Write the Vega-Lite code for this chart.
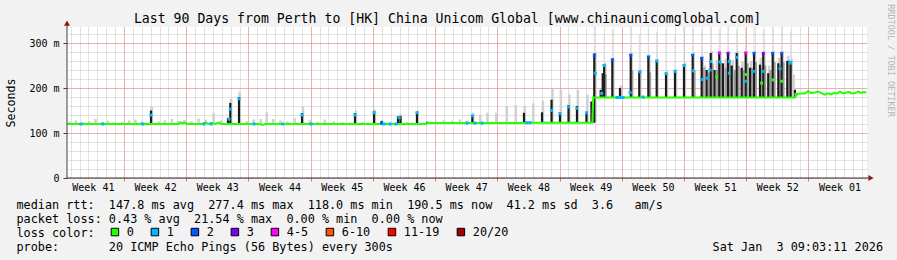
{
  "$schema": "https://vega.github.io/schema/vega-lite/v6.json",
  "width": 800,
  "height": 151,
  "autosize": {"type": "none"},
  "padding": {"left": 67, "top": 27, "right": 30, "bottom": 82},
  "background": "#f2f2f2",
  "title": {
    "text": "Last 90 Days from Perth to [HK] China Unicom Global [www.chinaunicomglobal.com]",
    "font": "DejaVu Sans Mono", "fontSize": 13.2, "fontWeight": "normal", "color": "black",
    "anchor": "middle", "frame": "group", "dx": -19.5, "dy": 37, "offset": 5, "baseline": "alphabetic"
  },
  "config": {
    "view": {"fill": "white", "stroke": null},
    "font": "DejaVu Sans Mono",
    "axis": {"labelFlush": false, "labelOverlap": false}
  },
  "datasets": {
    "tail": [
      {"t": 9.45, "lo": 120, "hi": 162}, {"t": 19.35, "lo": 120, "hi": 195},
      {"t": 59.32, "lo": 179, "hi": 337}, {"t": 60.43, "lo": 179, "hi": 320}, {"t": 61.35, "lo": 179, "hi": 330},
      {"t": 63.42, "lo": 179, "hi": 338}, {"t": 64.38, "lo": 179, "hi": 320}, {"t": 65.40, "lo": 179, "hi": 330},
      {"t": 66.34, "lo": 179, "hi": 325}, {"t": 67.39, "lo": 179, "hi": 330}, {"t": 68.40, "lo": 179, "hi": 318},
      {"t": 69.41, "lo": 179, "hi": 336}, {"t": 70.39, "lo": 179, "hi": 334}, {"t": 71.40, "lo": 179, "hi": 330},
      {"t": 72.42, "lo": 179, "hi": 336}, {"t": 73.38, "lo": 179, "hi": 333}, {"t": 74.36, "lo": 179, "hi": 336},
      {"t": 75.34, "lo": 179, "hi": 330}, {"t": 76.35, "lo": 179, "hi": 334}, {"t": 77.29, "lo": 179, "hi": 336},
      {"t": 78.33, "lo": 179, "hi": 330}, {"t": 79.39, "lo": 179, "hi": 335}, {"t": 80.40, "lo": 179, "hi": 336},
      {"t": 81.41, "lo": 179, "hi": 325}
    ],
    "smoke": [
      {"t": 0.3, "lo": 120, "hi": 126}, {"t": 1.0, "lo": 120, "hi": 128}, {"t": 1.8, "lo": 120, "hi": 124},
      {"t": 2.5, "lo": 120, "hi": 126}, {"t": 3.2, "lo": 120, "hi": 131}, {"t": 4.0, "lo": 120, "hi": 125},
      {"t": 4.6, "lo": 120, "hi": 127}, {"t": 5.3, "lo": 120, "hi": 124}, {"t": 6.2, "lo": 120, "hi": 125},
      {"t": 7.0, "lo": 120, "hi": 128}, {"t": 7.7, "lo": 120, "hi": 130}, {"t": 8.4, "lo": 120, "hi": 126},
      {"t": 9.55, "lo": 120, "hi": 158}, {"t": 10.3, "lo": 120, "hi": 126}, {"t": 11.0, "lo": 120, "hi": 128},
      {"t": 11.8, "lo": 120, "hi": 131}, {"t": 12.5, "lo": 120, "hi": 127}, {"t": 13.2, "lo": 120, "hi": 129},
      {"t": 14.0, "lo": 120, "hi": 126}, {"t": 14.8, "lo": 120, "hi": 132}, {"t": 15.6, "lo": 120, "hi": 130},
      {"t": 16.5, "lo": 120, "hi": 145}, {"t": 17.3, "lo": 120, "hi": 128}, {"t": 18.47, "lo": 120, "hi": 176},
      {"t": 19.45, "lo": 120, "hi": 190}, {"t": 20.2, "lo": 120, "hi": 126}, {"t": 21.0, "lo": 120, "hi": 130},
      {"t": 21.8, "lo": 120, "hi": 131}, {"t": 22.47, "lo": 120, "hi": 146}, {"t": 23.2, "lo": 120, "hi": 131},
      {"t": 24.0, "lo": 120, "hi": 128}, {"t": 24.8, "lo": 120, "hi": 126}, {"t": 25.6, "lo": 120, "hi": 133},
      {"t": 26.54, "lo": 120, "hi": 160}, {"t": 27.3, "lo": 120, "hi": 128}, {"t": 28.2, "lo": 120, "hi": 125},
      {"t": 29.0, "lo": 120, "hi": 130}, {"t": 30.0, "lo": 120, "hi": 126}, {"t": 31.0, "lo": 120, "hi": 124},
      {"t": 32.5, "lo": 120, "hi": 150}, {"t": 33.3, "lo": 120, "hi": 124}, {"t": 34.64, "lo": 120, "hi": 152},
      {"t": 36.3, "lo": 120, "hi": 123}, {"t": 37.5, "lo": 120, "hi": 142}, {"t": 38.3, "lo": 120, "hi": 124},
      {"t": 39.47, "lo": 120, "hi": 150}, {"t": 41.5, "lo": 122, "hi": 126}, {"t": 42.4, "lo": 122, "hi": 128},
      {"t": 43.3, "lo": 122, "hi": 127}, {"t": 44.2, "lo": 122, "hi": 130}, {"t": 45.0, "lo": 122, "hi": 128},
      {"t": 45.7, "lo": 122, "hi": 145}, {"t": 46.5, "lo": 122, "hi": 140}, {"t": 47.3, "lo": 122, "hi": 145},
      {"t": 48.3, "lo": 122, "hi": 145}, {"t": 49.47, "lo": 122, "hi": 160}, {"t": 50.48, "lo": 122, "hi": 162},
      {"t": 51.5, "lo": 122, "hi": 160}, {"t": 52.46, "lo": 123, "hi": 166}, {"t": 53.54, "lo": 123, "hi": 172},
      {"t": 54.61, "lo": 123, "hi": 198}, {"t": 55.56, "lo": 123, "hi": 196}, {"t": 56.52, "lo": 123, "hi": 186},
      {"t": 57.47, "lo": 123, "hi": 196}, {"t": 58.54, "lo": 123, "hi": 186}, {"t": 59.45, "lo": 123, "hi": 280},
      {"t": 60.55, "lo": 179, "hi": 256}, {"t": 61.47, "lo": 179, "hi": 266}, {"t": 62.3, "lo": 179, "hi": 206},
      {"t": 63.54, "lo": 179, "hi": 278}, {"t": 64.5, "lo": 179, "hi": 242}, {"t": 65.52, "lo": 179, "hi": 274},
      {"t": 66.46, "lo": 179, "hi": 265}, {"t": 67.51, "lo": 179, "hi": 238}, {"t": 68.52, "lo": 179, "hi": 242},
      {"t": 69.53, "lo": 179, "hi": 256}, {"t": 70.51, "lo": 179, "hi": 278}, {"t": 71.52, "lo": 179, "hi": 271},
      {"t": 71.75, "lo": 179, "hi": 250}, {"t": 72.54, "lo": 179, "hi": 282}, {"t": 73.1, "lo": 179, "hi": 262},
      {"t": 73.5, "lo": 179, "hi": 282}, {"t": 74.1, "lo": 179, "hi": 265}, {"t": 74.48, "lo": 179, "hi": 282},
      {"t": 74.9, "lo": 179, "hi": 262}, {"t": 75.46, "lo": 179, "hi": 282}, {"t": 76.0, "lo": 179, "hi": 258},
      {"t": 76.47, "lo": 179, "hi": 282}, {"t": 76.95, "lo": 179, "hi": 260}, {"t": 77.41, "lo": 179, "hi": 282},
      {"t": 78.05, "lo": 179, "hi": 268}, {"t": 78.45, "lo": 179, "hi": 282}, {"t": 79.0, "lo": 179, "hi": 250},
      {"t": 79.51, "lo": 179, "hi": 282}, {"t": 80.12, "lo": 179, "hi": 268}, {"t": 80.52, "lo": 179, "hi": 282},
      {"t": 81.13, "lo": 179, "hi": 272}, {"t": 81.53, "lo": 179, "hi": 265}, {"t": 81.75, "lo": 179, "hi": 230}
    ],
    "mid": [
      {"t": 71.62, "lo": 179, "hi": 245}, {"t": 72.2, "lo": 179, "hi": 235}, {"t": 72.64, "lo": 179, "hi": 255},
      {"t": 73.15, "lo": 179, "hi": 240}, {"t": 73.6, "lo": 179, "hi": 255}, {"t": 74.1, "lo": 179, "hi": 245},
      {"t": 74.58, "lo": 179, "hi": 258}, {"t": 75.1, "lo": 179, "hi": 240}, {"t": 75.56, "lo": 179, "hi": 250},
      {"t": 76.1, "lo": 179, "hi": 240}, {"t": 76.57, "lo": 179, "hi": 255}, {"t": 77.05, "lo": 179, "hi": 245},
      {"t": 77.51, "lo": 179, "hi": 258}, {"t": 78.1, "lo": 179, "hi": 245}, {"t": 78.55, "lo": 179, "hi": 250},
      {"t": 79.15, "lo": 179, "hi": 240}, {"t": 79.61, "lo": 179, "hi": 258}, {"t": 80.2, "lo": 179, "hi": 250},
      {"t": 80.62, "lo": 179, "hi": 258}, {"t": 81.2, "lo": 179, "hi": 262}, {"t": 60.6, "lo": 179, "hi": 230},
      {"t": 63.6, "lo": 179, "hi": 240}, {"t": 65.6, "lo": 179, "hi": 235}, {"t": 70.6, "lo": 179, "hi": 240}
    ],
    "spike": [
      {"t": 9.45, "lo": 120, "hi": 150}, {"t": 18.11, "lo": 120, "hi": 133}, {"t": 18.37, "lo": 120, "hi": 167},
      {"t": 19.35, "lo": 120, "hi": 180}, {"t": 26.44, "lo": 120, "hi": 144}, {"t": 32.40, "lo": 120, "hi": 144},
      {"t": 34.54, "lo": 120, "hi": 148}, {"t": 35.40, "lo": 120, "hi": 127}, {"t": 37.24, "lo": 120, "hi": 137},
      {"t": 37.52, "lo": 120, "hi": 138}, {"t": 39.37, "lo": 120, "hi": 147}, {"t": 40.53, "lo": 120, "hi": 125},
      {"t": 45.60, "lo": 122, "hi": 140}, {"t": 51.41, "lo": 123, "hi": 145}, {"t": 53.44, "lo": 123, "hi": 146},
      {"t": 54.51, "lo": 123, "hi": 174}, {"t": 55.46, "lo": 123, "hi": 146}, {"t": 56.42, "lo": 123, "hi": 162},
      {"t": 57.37, "lo": 123, "hi": 160}, {"t": 58.44, "lo": 123, "hi": 146}, {"t": 59.00, "lo": 123, "hi": 170},
      {"t": 59.32, "lo": 123, "hi": 277},
      {"t": 60.04, "lo": 179, "hi": 196}, {"t": 60.27, "lo": 179, "hi": 233}, {"t": 60.43, "lo": 179, "hi": 252},
      {"t": 61.35, "lo": 179, "hi": 263}, {"t": 62.21, "lo": 179, "hi": 200}, {"t": 63.42, "lo": 179, "hi": 274},
      {"t": 64.38, "lo": 179, "hi": 237}, {"t": 65.40, "lo": 179, "hi": 270}, {"t": 66.34, "lo": 179, "hi": 261},
      {"t": 67.39, "lo": 179, "hi": 233}, {"t": 68.40, "lo": 179, "hi": 237}, {"t": 69.41, "lo": 179, "hi": 252},
      {"t": 70.39, "lo": 179, "hi": 274}, {"t": 71.40, "lo": 179, "hi": 267}, {"t": 71.96, "lo": 179, "hi": 240},
      {"t": 72.42, "lo": 179, "hi": 278}, {"t": 72.85, "lo": 179, "hi": 240}, {"t": 73.38, "lo": 179, "hi": 278},
      {"t": 73.80, "lo": 179, "hi": 255}, {"t": 74.36, "lo": 179, "hi": 278}, {"t": 74.78, "lo": 179, "hi": 250},
      {"t": 75.34, "lo": 179, "hi": 278}, {"t": 75.90, "lo": 179, "hi": 245}, {"t": 76.35, "lo": 179, "hi": 278},
      {"t": 76.84, "lo": 179, "hi": 245}, {"t": 77.29, "lo": 179, "hi": 278}, {"t": 77.96, "lo": 179, "hi": 252},
      {"t": 78.33, "lo": 179, "hi": 277}, {"t": 78.89, "lo": 179, "hi": 233}, {"t": 79.39, "lo": 179, "hi": 278},
      {"t": 80.02, "lo": 179, "hi": 255}, {"t": 80.40, "lo": 179, "hi": 278}, {"t": 81.03, "lo": 179, "hi": 260},
      {"t": 81.41, "lo": 179, "hi": 259}, {"t": 81.90, "lo": 179, "hi": 196}
    ],
    "median": [
      {"t": 0, "ms": 120}, {"t": 12.6, "ms": 120}, {"t": 12.8, "ms": 124}, {"t": 13.0, "ms": 121},
      {"t": 13.2, "ms": 123}, {"t": 13.5, "ms": 120}, {"t": 15.3, "ms": 120}, {"t": 15.6, "ms": 123},
      {"t": 15.9, "ms": 120}, {"t": 16.3, "ms": 122}, {"t": 16.7, "ms": 120}, {"t": 17.0, "ms": 123},
      {"t": 17.3, "ms": 120}, {"t": 21.7, "ms": 120}, {"t": 22.0, "ms": 118}, {"t": 22.3, "ms": 120},
      {"t": 40.4, "ms": 120}, {"t": 40.6, "ms": 122}, {"t": 52.0, "ms": 122}, {"t": 52.3, "ms": 123},
      {"t": 59.1, "ms": 123}, {"t": 59.2, "ms": 179}, {"t": 81.9, "ms": 179}, {"t": 82.05, "ms": 184},
      {"t": 82.2, "ms": 187}, {"t": 82.46, "ms": 188}, {"t": 83.02, "ms": 188}, {"t": 83.36, "ms": 193},
      {"t": 83.70, "ms": 189}, {"t": 84.15, "ms": 190}, {"t": 84.49, "ms": 192}, {"t": 84.94, "ms": 188},
      {"t": 85.27, "ms": 185}, {"t": 85.61, "ms": 188}, {"t": 85.95, "ms": 186}, {"t": 86.28, "ms": 189},
      {"t": 86.62, "ms": 188}, {"t": 86.96, "ms": 192}, {"t": 87.30, "ms": 188}, {"t": 87.64, "ms": 190},
      {"t": 87.98, "ms": 191}, {"t": 88.31, "ms": 188}, {"t": 88.65, "ms": 189}, {"t": 88.99, "ms": 192},
      {"t": 89.32, "ms": 189}, {"t": 89.66, "ms": 191}, {"t": 89.94, "ms": 190}
    ],
    "dots": [
      {"t": 1.57, "ms": 120, "loss": "1"}, {"t": 4.02, "ms": 120, "loss": "1"}, {"t": 8.52, "ms": 120, "loss": "1"},
      {"t": 9.45, "ms": 140, "loss": "1"}, {"t": 15.41, "ms": 120, "loss": "1"}, {"t": 16.20, "ms": 120, "loss": "1"},
      {"t": 18.22, "ms": 131, "loss": "1"}, {"t": 18.37, "ms": 153, "loss": "1"}, {"t": 19.35, "ms": 176, "loss": "1"},
      {"t": 21.04, "ms": 120, "loss": "1"}, {"t": 24.27, "ms": 120, "loss": "1"}, {"t": 26.44, "ms": 140, "loss": "1"},
      {"t": 27.45, "ms": 120, "loss": "1"}, {"t": 32.40, "ms": 140, "loss": "1"}, {"t": 34.54, "ms": 145, "loss": "1"},
      {"t": 35.40, "ms": 122, "loss": "2"}, {"t": 35.66, "ms": 120, "loss": "1"}, {"t": 36.34, "ms": 120, "loss": "1"},
      {"t": 37.01, "ms": 120, "loss": "1"}, {"t": 37.37, "ms": 134, "loss": "1"}, {"t": 39.37, "ms": 145, "loss": "1"},
      {"t": 45.00, "ms": 122, "loss": "1"}, {"t": 45.60, "ms": 138, "loss": "1"}, {"t": 45.90, "ms": 122, "loss": "1"},
      {"t": 46.69, "ms": 122, "loss": "1"}, {"t": 51.75, "ms": 123, "loss": "1"}, {"t": 52.09, "ms": 123, "loss": "1"},
      {"t": 54.51, "ms": 150, "loss": "1"}, {"t": 55.46, "ms": 143, "loss": "1"}, {"t": 56.42, "ms": 158, "loss": "1"},
      {"t": 57.37, "ms": 155, "loss": "1"}, {"t": 58.44, "ms": 145, "loss": "1"},
      {"t": 59.32, "ms": 272, "loss": "2"}, {"t": 59.43, "ms": 233, "loss": "1"}, {"t": 60.15, "ms": 188, "loss": "1"},
      {"t": 60.41, "ms": 250, "loss": "1"}, {"t": 61.35, "ms": 263, "loss": "2"}, {"t": 61.88, "ms": 179, "loss": "1"},
      {"t": 62.21, "ms": 179, "loss": "1"}, {"t": 62.55, "ms": 179, "loss": "1"}, {"t": 63.34, "ms": 190, "loss": "1"},
      {"t": 63.42, "ms": 273, "loss": "2"}, {"t": 64.46, "ms": 236, "loss": "1"}, {"t": 64.80, "ms": 180, "loss": "1"},
      {"t": 65.40, "ms": 269, "loss": "2"}, {"t": 66.34, "ms": 260, "loss": "1"}, {"t": 67.39, "ms": 232, "loss": "1"},
      {"t": 68.40, "ms": 237, "loss": "1"}, {"t": 69.41, "ms": 250, "loss": "1"}, {"t": 70.39, "ms": 273, "loss": "2"},
      {"t": 70.39, "ms": 238, "loss": "1"}, {"t": 71.40, "ms": 266, "loss": "2"}, {"t": 71.40, "ms": 219, "loss": "1"},
      {"t": 72.03, "ms": 222, "loss": "1"}, {"t": 72.42, "ms": 259, "loss": "1"}, {"t": 72.34, "ms": 240, "loss": "1"},
      {"t": 73.09, "ms": 225, "loss": "0"}, {"t": 73.38, "ms": 278, "loss": "4-5"}, {"t": 73.46, "ms": 258, "loss": "1"},
      {"t": 74.36, "ms": 277, "loss": "3"}, {"t": 74.51, "ms": 259, "loss": "1"}, {"t": 74.51, "ms": 233, "loss": "1"},
      {"t": 75.34, "ms": 268, "loss": "1"}, {"t": 76.35, "ms": 278, "loss": "4-5"}, {"t": 76.31, "ms": 215, "loss": "1"},
      {"t": 76.39, "ms": 230, "loss": "0"}, {"t": 77.29, "ms": 277, "loss": "2"}, {"t": 77.21, "ms": 237, "loss": "1"},
      {"t": 78.33, "ms": 277, "loss": "3"}, {"t": 78.27, "ms": 237, "loss": "1"}, {"t": 78.15, "ms": 211, "loss": "0"},
      {"t": 79.39, "ms": 277, "loss": "2"}, {"t": 79.46, "ms": 218, "loss": "0"}, {"t": 80.40, "ms": 277, "loss": "2"},
      {"t": 80.21, "ms": 243, "loss": "1"}, {"t": 80.40, "ms": 215, "loss": "0"}, {"t": 81.41, "ms": 257, "loss": "1"},
      {"t": 81.33, "ms": 255, "loss": "1"}, {"t": 82.0, "ms": 186, "loss": "0"}
    ]
  },
  "resolve": {"axis": {"x": "independent", "y": "independent"}},
  "layer": [
    {
      "data": {"name": "tail"},
      "mark": {"type": "rule", "color": "#dadada", "strokeWidth": 1},
      "encoding": {
        "x": {"field": "t", "type": "quantitative", "scale": {"domain": [0, 90], "nice": false, "zero": false},
          "axis": {"orient": "top", "values": [0.41,1.41,2.41,3.41,4.41,5.41,6.41,7.41,8.41,9.41,10.41,11.41,12.41,13.41,14.41,15.41,16.41,17.41,18.41,19.41,20.41,21.41,22.41,23.41,24.41,25.41,26.41,27.41,28.41,29.41,30.41,31.41,32.41,33.41,34.41,35.41,36.41,37.41,38.41,39.41,40.41,41.41,42.41,43.41,44.41,45.41,46.41,47.41,48.41,49.41,50.41,51.41,52.41,53.41,54.41,55.41,56.41,57.41,58.41,59.41,60.41,61.41,62.41,63.41,64.41,65.41,66.41,67.41,68.41,69.41,70.41,71.41,72.41,73.41,74.41,75.41,76.41,77.41,78.41,79.41,80.41,81.41,82.41,83.41,84.41,85.41,86.41,87.41,88.41,89.41],
            "grid": true, "gridColor": "#c4c4c4", "gridDash": [1, 1], "gridWidth": 1,
            "ticks": false, "labels": false, "domain": false, "title": null}},
        "y": {"field": "lo", "type": "quantitative", "scale": {"domain": [0, 335.6], "nice": false},
          "axis": {"orient": "right", "values": [20,40,60,80,100,120,140,160,180,200,220,240,260,280,300,320],
            "grid": true, "gridColor": "#c4c4c4", "gridDash": [1, 1], "gridWidth": 1,
            "ticks": false, "labels": false, "domain": false,
            "title": "RRDTOOL / TOBI OETIKER", "titleAngle": 90, "titleColor": "#b4b4b4",
            "titleFont": "DejaVu Sans Mono", "titleFontSize": 8.5, "titleFontWeight": "normal",
            "titleX": 23, "titleY": 33, "titleAlign": "center", "titleBaseline": "middle"}},
        "y2": {"field": "hi"}
      }
    },
    {
      "data": {"name": "smoke"},
      "mark": {"type": "rule", "color": "#d0d0d0", "strokeWidth": 2.5},
      "encoding": {
        "x": {"field": "t", "type": "quantitative", "axis": null},
        "y": {"field": "lo", "type": "quantitative", "axis": null},
        "y2": {"field": "hi"}
      }
    },
    {
      "data": {"name": "mid"},
      "mark": {"type": "rule", "color": "#9a9a9a", "strokeWidth": 2},
      "encoding": {
        "x": {"field": "t", "type": "quantitative", "axis": null},
        "y": {"field": "lo", "type": "quantitative", "axis": null},
        "y2": {"field": "hi"}
      }
    },
    {
      "data": {"name": "spike"},
      "mark": {"type": "rule", "color": "#1c1c1c", "strokeWidth": 2.2},
      "encoding": {
        "x": {"field": "t", "type": "quantitative",
          "axis": {"orient": "bottom", "values": [6.41,13.41,20.41,27.41,34.41,41.41,48.41,55.41,62.41,69.41,76.41,83.41],
            "grid": true, "gridColor": "#f08080", "gridDash": [1, 1], "gridWidth": 1,
            "ticks": true, "tickSize": 3, "tickColor": "#e07070", "labels": false, "domain": false, "title": null}},
        "y": {"field": "lo", "type": "quantitative",
          "axis": {"orient": "left", "values": [0, 100, 200, 300],
            "grid": true, "gridColor": "#f08080", "gridDash": [1, 1], "gridWidth": 1,
            "ticks": true, "tickSize": 4, "tickColor": "#404040", "domain": false,
            "labelExpr": "datum.value == 0 ? '0' : datum.value + ' m'",
            "labelFont": "DejaVu Sans Mono", "labelFontSize": 10, "labelColor": "black", "labelPadding": 4,
            "title": "Seconds", "titleFont": "DejaVu Sans Mono", "titleFontSize": 11.6, "titleFontWeight": "normal",
            "titleColor": "black", "titlePadding": 12}},
        "y2": {"field": "hi"}
      }
    },
    {
      "data": {"name": "median"},
      "mark": {"type": "line", "color": "#26ff00", "strokeWidth": 2},
      "encoding": {
        "x": {"field": "t", "type": "quantitative",
          "axis": {"orient": "bottom", "values": [2.91,9.91,16.91,23.91,30.91,37.91,44.91,51.91,58.91,65.91,72.91,79.91,86.91],
            "grid": false, "ticks": false, "tickSize": 0, "domain": false,
            "labelExpr": "['Week 41','Week 42','Week 43','Week 44','Week 45','Week 46','Week 47','Week 48','Week 49','Week 50','Week 51','Week 52','Week 01'][round((datum.value - 2.91) / 7)]",
            "labelFont": "DejaVu Sans Mono", "labelFontSize": 10, "labelColor": "black", "labelPadding": 4,
            "title": [
              "median\u00a0rtt:\u00a0\u00a0147.8\u00a0ms\u00a0avg\u00a0\u00a0277.4\u00a0ms\u00a0max\u00a0\u00a0118.0\u00a0ms\u00a0min\u00a0\u00a0190.5\u00a0ms\u00a0now\u00a0\u00a041.2\u00a0ms\u00a0sd\u00a0\u00a03.6\u00a0\u00a0\u00a0am/s",
              "packet\u00a0loss:\u00a00.43\u00a0%\u00a0avg\u00a0\u00a021.54\u00a0%\u00a0max\u00a0\u00a00.00\u00a0%\u00a0min\u00a0\u00a00.00\u00a0%\u00a0now",
              "loss\u00a0color:",
              "probe:\u00a0\u00a0\u00a0\u00a0\u00a0\u00a0\u00a020\u00a0ICMP\u00a0Echo\u00a0Pings\u00a0(56\u00a0Bytes)\u00a0every\u00a0300s\u00a0\u00a0\u00a0\u00a0\u00a0\u00a0\u00a0\u00a0\u00a0\u00a0\u00a0\u00a0\u00a0\u00a0\u00a0\u00a0\u00a0\u00a0\u00a0\u00a0\u00a0\u00a0\u00a0\u00a0\u00a0\u00a0\u00a0\u00a0\u00a0\u00a0\u00a0\u00a0\u00a0\u00a0\u00a0\u00a0\u00a0\u00a0\u00a0\u00a0\u00a0\u00a0\u00a0\u00a0\u00a0Sat\u00a0Jan\u00a0\u00a03\u00a009:03:11\u00a02026"
            ],
            "titleFont": "DejaVu Sans Mono", "titleFontSize": 11.8, "titleFontWeight": "normal", "titleColor": "black",
            "titleAlign": "left", "titleAnchor": "start", "titleBaseline": "alphabetic",
            "titleX": -51, "titleY": 30, "titleLineHeight": 14}},
        "y": {"field": "ms", "type": "quantitative", "axis": null}
      }
    },
    {
      "data": {"name": "dots"},
      "mark": {"type": "square", "size": 9, "opacity": 1},
      "encoding": {
        "x": {"field": "t", "type": "quantitative", "axis": null},
        "y": {"field": "ms", "type": "quantitative", "axis": null},
        "color": {"field": "loss", "type": "nominal",
          "scale": {"domain": ["0", "1", "2", "3", "4-5", "6-10", "11-19", "20/20"],
            "range": ["#26ff00", "#00b8ff", "#0059ff", "#7e00ff", "#ff00ff", "#ff5500", "#ff0000", "#a10000"]},
          "legend": {"orient": "none", "legendX": 42, "legendY": 199, "direction": "horizontal", "columns": 8,
            "title": null, "symbolType": "square", "symbolSize": 56, "symbolStrokeColor": "black",
            "symbolStrokeWidth": 1, "symbolOpacity": 1, "labelFont": "DejaVu Sans Mono", "labelFontSize": 11.8,
            "labelColor": "black", "labelOffset": 6, "columnPadding": 15, "padding": 0}}
      }
    },
    {
      "data": {"values": [{}]},
      "mark": {"type": "rule", "color": "#303030", "strokeWidth": 1},
      "encoding": {
        "x": {"datum": 0, "axis": null},
        "x2": {"datum": 90.45},
        "y": {"datum": 0, "axis": null}
      }
    },
    {
      "data": {"values": [{}]},
      "mark": {"type": "rule", "color": "#404040", "strokeWidth": 1},
      "encoding": {
        "x": {"datum": 0, "axis": null},
        "y": {"datum": 0, "axis": null},
        "y2": {"datum": 343}
      }
    },
    {
      "data": {"values": [{}]},
      "mark": {"type": "point", "shape": "triangle-up", "filled": true, "size": 36, "color": "#8b1a1a", "opacity": 1},
      "encoding": {
        "x": {"datum": 0, "axis": null},
        "y": {"datum": 344, "axis": null}
      }
    },
    {
      "data": {"values": [{}]},
      "mark": {"type": "point", "shape": "triangle-right", "filled": true, "size": 36, "color": "#8b1a1a", "opacity": 1},
      "encoding": {
        "x": {"datum": 90.45, "axis": null},
        "y": {"datum": 0, "axis": null}
      }
    }
  ]
}
